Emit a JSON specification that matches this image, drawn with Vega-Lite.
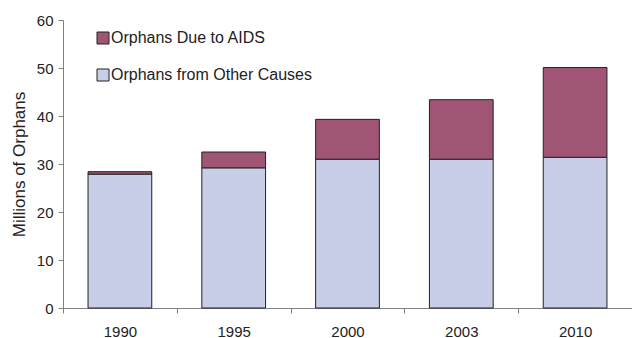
{
  "$schema": "https://vega.github.io/schema/vega-lite/v6.json",
  "autosize": "none",
  "width": 569,
  "height": 288,
  "padding": {"left": 63, "top": 20, "right": 0, "bottom": 30},
  "background": "white",
  "config": {
    "font": "Liberation Sans",
    "view": {"stroke": null}
  },
  "data": {
    "values": [
      {"year": "1990", "cause": "Orphans from Other Causes", "value": 27.9, "ord": 1},
      {"year": "1990", "cause": "Orphans Due to AIDS", "value": 0.5, "ord": 2},
      {"year": "1995", "cause": "Orphans from Other Causes", "value": 29.2, "ord": 1},
      {"year": "1995", "cause": "Orphans Due to AIDS", "value": 3.3, "ord": 2},
      {"year": "2000", "cause": "Orphans from Other Causes", "value": 31.0, "ord": 1},
      {"year": "2000", "cause": "Orphans Due to AIDS", "value": 8.3, "ord": 2},
      {"year": "2003", "cause": "Orphans from Other Causes", "value": 31.0, "ord": 1},
      {"year": "2003", "cause": "Orphans Due to AIDS", "value": 12.4, "ord": 2},
      {"year": "2010", "cause": "Orphans from Other Causes", "value": 31.4, "ord": 1},
      {"year": "2010", "cause": "Orphans Due to AIDS", "value": 18.7, "ord": 2}
    ]
  },
  "mark": {"type": "bar", "stroke": "#222222", "strokeWidth": 1, "width": {"band": 0.56}},
  "encoding": {
    "x": {
      "field": "year", "type": "nominal",
      "scale": {"paddingInner": 0, "paddingOuter": 0},
      "axis": {
        "title": null, "labelAngle": 0, "labelFontSize": 15, "labelColor": "#222222",
        "tickBand": "extent", "domainColor": "#808080", "tickColor": "#808080",
        "tickSize": 5, "labelPadding": 11
      }
    },
    "y": {
      "field": "value", "type": "quantitative", "stack": "zero",
      "scale": {"domain": [0, 60], "nice": false},
      "axis": {
        "title": "Millions of Orphans", "titleFontSize": 17, "titleFontWeight": "normal",
        "titleColor": "#222222", "titlePadding": 8,
        "values": [0, 10, 20, 30, 40, 50, 60], "grid": false,
        "labelFontSize": 15, "labelColor": "#222222", "labelPadding": 5,
        "domainColor": "#808080", "tickColor": "#808080", "tickSize": 5
      }
    },
    "color": {
      "field": "cause", "type": "nominal",
      "scale": {
        "domain": ["Orphans Due to AIDS", "Orphans from Other Causes"],
        "range": ["#A05574", "#C9CEE8"]
      },
      "legend": {
        "title": null, "orient": "none", "legendX": 32, "legendY": 10,
        "symbolType": "square", "symbolSize": 144, "symbolStrokeColor": "#222222",
        "symbolStrokeWidth": 1, "labelFontSize": 16, "labelColor": "#222222",
        "rowPadding": 21, "labelOffset": 0, "labelLimit": 400
      }
    },
    "order": {"field": "ord", "type": "quantitative"}
  }
}
